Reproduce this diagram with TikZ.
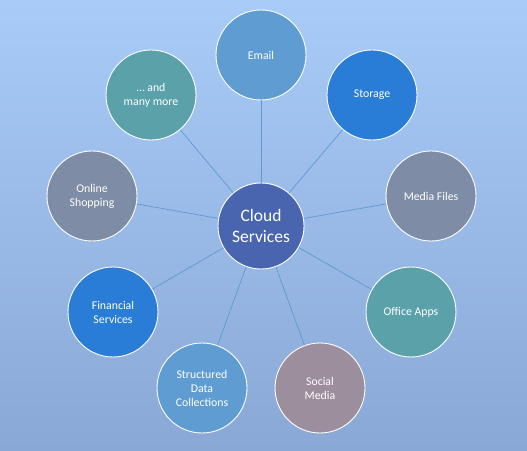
\documentclass[tikz,border=0pt]{standalone}
\usepackage{fontspec}
\setmainfont{Carlito}
\usetikzlibrary{positioning}
\definecolor{bg-top}{HTML}{A8CBF8}
\definecolor{bg-bottom}{HTML}{8AA8D6}
\definecolor{hub-blue}{HTML}{4A65AF}
\definecolor{soft-blue}{HTML}{5E9CD2}
\definecolor{deep-blue}{HTML}{297DD6}
\definecolor{slate}{HTML}{7F8CA5}
\definecolor{teal}{HTML}{5AA1AA}
\definecolor{mauve}{HTML}{9D8E9E}
\definecolor{spoke}{HTML}{5E9AD0}
\tikzset{
  svc/.style={circle, draw=white, line width=.9pt, minimum size=90pt,
    inner sep=0pt, align=center, text=white, font=\fontsize{11.8}{14}\selectfont},
}

\begin{document}
\begin{tikzpicture}[
  x=1pt, y=1pt,
  hub/.style={svc, minimum size=86pt, fill=hub-blue, font=\fontsize{17.5}{21}\selectfont},
  link/.style={draw=spoke, line width=.7pt}
]

% Background
\useasboundingbox (0,0) rectangle (527,450);
\shade[top color=bg-top, bottom color=bg-bottom] (0,0) rectangle (527,450);

% Hub
\node[hub] (cloud) at (261, 224) {Cloud\\Services};

% Services
\node[svc, fill=soft-blue] (email) at (261, 395) {Email};
\node[svc, fill=deep-blue] (storage) at (372, 355) {Storage};
\node[svc, fill=slate] (media) at (431, 254) {Media Files};
\node[svc, fill=teal] (office) at (411, 138) {Office Apps};
\node[svc, fill=mauve] (social) at (320, 62) {Social\\Media};
\node[svc, fill=soft-blue] (data) at (202, 62) {Structured\\Data\\Collections};
\node[svc, fill=deep-blue] (finance) at (113, 138) {Financial\\Services};
\node[svc, fill=slate] (shopping) at (92, 254) {Online\\Shopping};
\node[svc, fill=teal] (more) at (151, 355) {\ldots{} and\\many more};

% Spokes
\draw[link] (cloud) -- (email);
\draw[link] (cloud) -- (storage);
\draw[link] (cloud) -- (media);
\draw[link] (cloud) -- (office);
\draw[link] (cloud) -- (social);
\draw[link] (cloud) -- (data);
\draw[link] (cloud) -- (finance);
\draw[link] (cloud) -- (shopping);
\draw[link] (cloud) -- (more);
\end{tikzpicture}
\end{document}
